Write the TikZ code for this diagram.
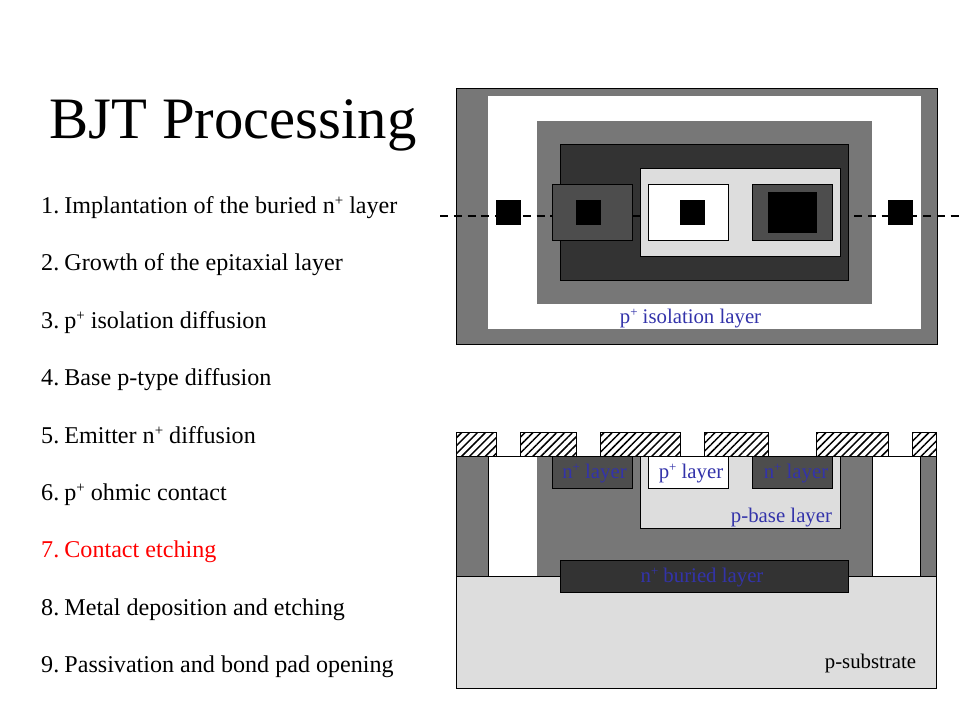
\documentclass[tikz,border=0pt]{standalone}
\usepackage{fontspec}
\setmainfont{Liberation Serif}
\usetikzlibrary{patterns.meta}
\definecolor{midg}{HTML}{777777}
\definecolor{darkg}{HTML}{333333}
\definecolor{ng}{HTML}{4D4D4D}
\definecolor{lightg}{HTML}{DDDDDD}
\definecolor{lab}{HTML}{3333AA}
\tikzset{
  lay/.style={draw=black,line width=0.9pt},
  blk/.style={fill=black},
  dashline/.style={line width=1.6pt,dash pattern=on 8pt off 5.8pt},
  hatchbox/.style={draw=black,line width=0.7pt,pattern={Lines[angle=45,distance=5.6pt,line width=1.5pt]}},
  steplab/.style={anchor=base west,font=\fontsize{24.1}{26}\selectfont,inner sep=0pt},
  laylab/.style={anchor=base,text=lab,font=\fontsize{20.8}{23}\selectfont,inner sep=0pt},
}
\newcommand{\up}[1]{\raisebox{.3em}{\scalebox{.62}{#1}}}
\newcommand{\nb}[1]{#1.\hspace{-.12em}}
\begin{document}
\begin{tikzpicture}[x=1pt,y=-1pt]
\useasboundingbox (0,0) rectangle (960,720);
\fill[white] (0,0) rectangle (960,720);
% title
\node[anchor=base west,inner sep=0pt,font=\fontsize{58.7}{60}\selectfont] (title) at (49.5,138) {BJT Processing};
% steps
\node[steplab] (s1) at (41,213) {\nb{1} Implantation of the buried n\up{+} layer};
\node[steplab] (s2) at (41,270) {\nb{2} Growth of the epitaxial layer};
\node[steplab] (s3) at (41,328) {\nb{3} p\up{+} isolation diffusion};
\node[steplab] (s4) at (41,385) {\nb{4} Base p-type diffusion};
\node[steplab] (s5) at (41,443) {\nb{5} Emitter n\up{+} diffusion};
\node[steplab] (s6) at (41,500) {\nb{6} p\up{+} ohmic contact};
\node[steplab,text=red] (s7) at (41,557) {\nb{7} Contact etching};
\node[steplab] (s8) at (41,615) {\nb{8} Metal deposition and etching};
\node[steplab] (s9) at (41,672) {\nb{9} Passivation and bond pad opening};
% top view
\filldraw[lay,fill=midg] (456.5,88.5) rectangle (937,344.5);
\fill[white] (488,96) rectangle (921,329);
\fill[midg] (537,121) rectangle (872,304);
\coordinate (dl) at (440,215.7);
\coordinate (dr) at (960,215.7);
\draw[dashline] (dl) -- (dr);
\filldraw[lay,fill=darkg] (560.5,144.5) rectangle (848.5,280.5);
\coordinate (gl) at (632,215.7);
\coordinate (gr) at (640,215.7);
\draw[line width=1.6pt] (gl) -- (gr);
\filldraw[lay,fill=lightg] (640.5,168.5) rectangle (840.5,256.5);
\filldraw[lay,fill=ng] (552.5,184.5) rectangle (632.5,240.5);
\filldraw[lay,fill=white] (648.5,184.5) rectangle (728.5,240.5);
\filldraw[lay,fill=ng] (752.5,184.5) rectangle (832.5,240.5);
\fill[blk] (496,200) rectangle (521,225);
\fill[blk] (576,200) rectangle (601,225);
\fill[blk] (680,200) rectangle (705,225);
\fill[blk] (768,192) rectangle (817,233);
\fill[blk] (888,200) rectangle (913,225);
\node[laylab] (iso) at (690.5,323) {p\up{+} isolation layer};
% cross section
\foreach \a/\b in {456.5/496.5,520.5/576.5,600.5/680.5,704.5/768.5,816.5/888.5,912.5/936.5}
  \draw[hatchbox] (\a,432.5) rectangle (\b,456.5);
\fill[lightg] (456.5,576.5) rectangle (936.5,688.5);
\fill[midg] (456.5,456.5) rectangle (488.5,576.5);
\fill[midg] (536.5,456.5) rectangle (872.5,576.5);
\fill[midg] (920.5,456.5) rectangle (936.5,576.5);
\draw[lay] (488.5,576.5) -- (488.5,456.5) (872.5,576.5) -- (872.5,456.5) (920.5,576.5) -- (920.5,456.5);
\draw[lay] (456.5,456.5) -- (936.5,456.5);
\draw[lay] (456.5,432.5) -- (456.5,688.5) -- (936.5,688.5) -- (936.5,432.5);
\draw[lay] (456.5,576.5) -- (936.5,576.5);
\filldraw[lay,fill=lightg] (640.5,456.5) rectangle (840.5,528.5);
\filldraw[lay,fill=ng] (552.5,456.5) rectangle (632.5,488.5);
\filldraw[lay,fill=white] (648.5,456.5) rectangle (728.5,488.5);
\filldraw[lay,fill=ng] (752.5,456.5) rectangle (832.5,488.5);
\filldraw[lay,fill=darkg] (560.5,560.5) rectangle (848.5,592.5);
\node[laylab] (nl) at (594.5,478) {n\up{+} layer};
\node[laylab] (pl) at (691,478) {p\up{+} layer};
\node[laylab] (nr) at (796,478) {n\up{+} layer};
\node[laylab] (pb) at (781.5,522) {p-base layer};
\node[laylab] (nb) at (702,582) {n\up{+} buried layer};
\node[anchor=base,inner sep=0pt,font=\fontsize{20.8}{23}\selectfont] (ps) at (870.5,668) {p-substrate};
\end{tikzpicture}
\end{document}
